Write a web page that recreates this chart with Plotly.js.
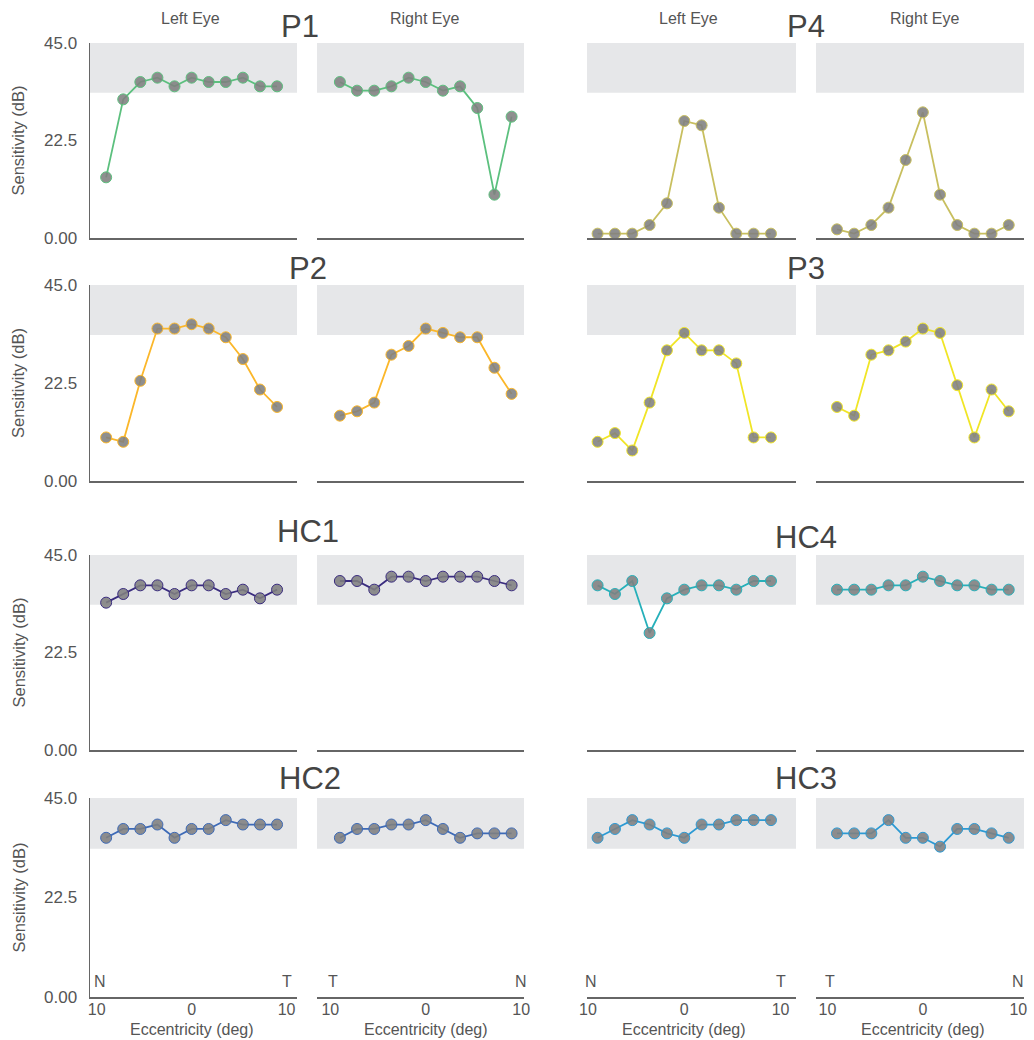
<!DOCTYPE html>
<html>
<head>
<meta charset="utf-8">
<script src="https://cdn.plot.ly/plotly-3.0.1.min.js"></script>
<style>html,body{margin:0;padding:0;background:#fff;}#chart{width:1034px;height:1040px;}</style>
</head>
<body>
<div id="chart"></div>
<script>
// Eccentricity positions of the 11 test points (deg)
const ecc = [-9, -7.2, -5.4, -3.6, -1.8, 0, 1.8, 3.6, 5.4, 7.2, 9];

// Sensitivity (dB) per subject and eye
const P1_left  = [14, 32, 36, 37, 35, 37, 36, 36, 37, 35, 35];
const P1_right = [36, 34, 34, 35, 37, 36, 34, 35, 30, 10, 28];
const P4_left  = [1, 1, 1, 3, 8, 27, 26, 7, 1, 1, 1];
const P4_right = [2, 1, 3, 7, 18, 29, 10, 3, 1, 1, 3];
const P2_left  = [10, 9, 23, 35, 35, 36, 35, 33, 28, 21, 17];
const P2_right = [15, 16, 18, 29, 31, 35, 34, 33, 33, 26, 20];
const P3_left  = [9, 11, 7, 18, 30, 34, 30, 30, 27, 10, 10];
const P3_right = [17, 15, 29, 30, 32, 35, 34, 22, 10, 21, 16];
const HC1_left  = [34, 36, 38, 38, 36, 38, 38, 36, 37, 35, 37];
const HC1_right = [39, 39, 37, 40, 40, 39, 40, 40, 40, 39, 38];
const HC4_left  = [38, 36, 39, 27, 35, 37, 38, 38, 37, 39, 39];
const HC4_right = [37, 37, 37, 38, 38, 40, 39, 38, 38, 37, 37];
const HC2_left  = [36, 38, 38, 39, 36, 38, 38, 40, 39, 39, 39];
const HC2_right = [36, 38, 38, 39, 39, 40, 38, 36, 37, 37, 37];
const HC3_left  = [36, 38, 40, 39, 37, 36, 39, 39, 40, 40, 40];
const HC3_right = [37, 37, 37, 40, 36, 36, 34, 38, 38, 37, 36];

// Normal range band (dB)
const bandLow = 33.5, bandHigh = 45;

const subjects = ["P1", "P4", "P2", "P3", "HC1", "HC4", "HC2", "HC3"];
const colors = {P1:"#5cc07e", P4:"#c8bf5f", P2:"#fbb72a", P3:"#f0e526", HC1:"#3a2c7f", HC4:"#26b0ba", HC2:"#3d6ab7", HC3:"#2c9ad4"};
const dataMap = {
  P1:[P1_left,P1_right], P4:[P4_left,P4_right], P2:[P2_left,P2_right], P3:[P3_left,P3_right],
  HC1:[HC1_left,HC1_right], HC4:[HC4_left,HC4_right], HC2:[HC2_left,HC2_right], HC3:[HC3_left,HC3_right]
};
const eyeLabels = ["Left Eye", "Right Eye"];
const sideLabels = [["N","T"],["T","N"],["N","T"],["T","N"]];
const xTickVals = [-10, 0, 10];
const xTickText = ["10", "0", "10"];
const yTickVals = [0, 22.5, 45];
const yTickText = ["0.00", "22.5", "45.0"];

const W = 1034, H = 1040;
const colPx = [[90,297],[317,524],[587,796],[816,1024]];
const colRange = [[-10.7,11.1],[-11.4,10.3],[-10.1,11.6],[-11.2,10.6]];
const rowPx = [[43,238],[285,481],[555,750],[798,997]];
const titlePos = [[300,26],[806,26],[308,268],[806,268],[308,531],[806,537],[310,778],[806,778]];

const grey = "#555";
const font = "Liberation Sans, Arial, Helvetica, sans-serif";

const traces = [];
const layout = {
  width: W, height: H,
  margin: {l:0, r:0, t:0, b:0},
  paper_bgcolor: "#fff", plot_bgcolor: "rgba(0,0,0,0)",
  showlegend: false,
  font: {family: font, color: grey},
  shapes: [], annotations: []
};

let n = 0;
for (let row = 0; row < 4; row++) {
  for (let blk = 0; blk < 2; blk++) {
    const subj = subjects[row*2 + blk];
    const col = colors[subj];
    for (let eye = 0; eye < 2; eye++) {
      n++;
      const c = blk*2 + eye;
      const xa = n === 1 ? "xaxis" : "xaxis" + n;
      const ya = n === 1 ? "yaxis" : "yaxis" + n;
      const xr = n === 1 ? "x" : "x" + n;
      const yr = n === 1 ? "y" : "y" + n;
      traces.push({
        type: "scatter", mode: "lines+markers",
        x: ecc, y: dataMap[subj][eye],
        xaxis: xr, yaxis: yr,
        line: {color: col, width: 1.8},
        marker: {size: 11, color: "rgba(128,128,128,0.88)", line: {color: col, width: 1}},
        cliponaxis: false, hoverinfo: "skip"
      });
      const bottom = row === 3;
      layout[xa] = {
        domain: [colPx[c][0]/W, colPx[c][1]/W],
        range: colRange[c], anchor: yr,
        showgrid: false, zeroline: false,
        showline: true, linecolor: "#666", linewidth: 1.5,
        tickvals: xTickVals, ticktext: xTickText,
        showticklabels: bottom,
        ticks: "", ticklabelstandoff: -3,
        tickfont: {size: 16, color: grey, family: font},
        fixedrange: true
      };
      layout[ya] = {
        domain: [1 - rowPx[row][1]/H, 1 - rowPx[row][0]/H],
        range: [0, 45], anchor: xr,
        showgrid: false, zeroline: false,
        showline: c === 0, linecolor: "#666", linewidth: 1.5,
        tickvals: yTickVals, ticktext: yTickText,
        showticklabels: c === 0,
        ticks: c === 0 ? "outside" : "", ticklen: 8, tickcolor: "rgba(0,0,0,0)",
        tickfont: {size: 17, color: grey, family: font},
        fixedrange: true
      };
      layout.shapes.push({
        type: "rect", layer: "below",
        xref: xr + " domain", yref: yr,
        x0: 0, x1: 1, y0: bandLow, y1: bandHigh,
        fillcolor: "#e6e7e9", line: {width: 0}
      });
      if (row === 0) {
        layout.annotations.push({
          text: eyeLabels[eye], xref: "paper", yref: "paper",
          x: ((colPx[c][0]+colPx[c][1])/2 - (eye===0?3:-4))/W, y: 1 - 18/H,
          showarrow: false, font: {size: 16, color: grey, family: font},
          xanchor: "center", yanchor: "middle"
        });
      }
      if (bottom) {
        layout.annotations.push({
          text: "Eccentricity (deg)", xref: xr, yref: "paper",
          x: 0, y: 1 - 1029/H,
          showarrow: false, font: {size: 16, color: grey, family: font},
          xanchor: "center", yanchor: "middle"
        });
        layout.annotations.push({
          text: sideLabels[c][0], xref: xr, yref: yr, x: -9.7, y: 3.6,
          showarrow: false, font: {size: 16, color: grey, family: font},
          xanchor: "center", yanchor: "middle"
        });
        layout.annotations.push({
          text: sideLabels[c][1], xref: xr, yref: yr, x: 10, y: 3.6,
          showarrow: false, font: {size: 16, color: grey, family: font},
          xanchor: "center", yanchor: "middle"
        });
      }
      if (c === 0) {
        layout.annotations.push({
          text: "Sensitivity (dB)", xref: "paper", yref: "paper",
          x: 18/W, y: 1 - ((rowPx[row][0]+rowPx[row][1])/2)/H,
          textangle: -90, showarrow: false,
          font: {size: 16.5, color: grey, family: font},
          xanchor: "center", yanchor: "middle"
        });
      }
    }
    const tp = titlePos[row*2 + blk];
    layout.annotations.push({
      text: subj, xref: "paper", yref: "paper",
      x: tp[0]/W, y: 1 - tp[1]/H,
      showarrow: false, font: {size: 31, color: "#444", family: font},
      xanchor: "center", yanchor: "middle"
    });
  }
}

Plotly.newPlot("chart", traces, layout, {displayModeBar: false, staticPlot: true});
</script>
</body>
</html>
